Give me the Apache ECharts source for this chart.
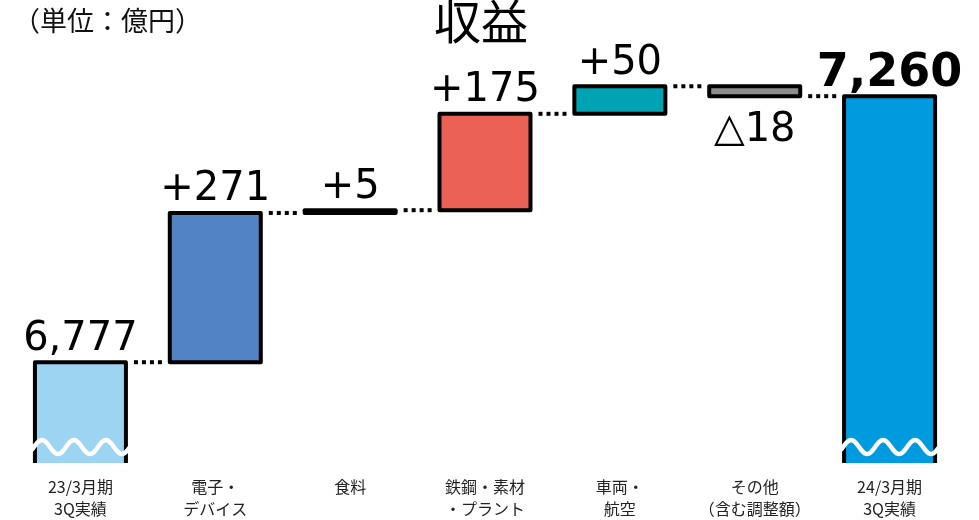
<!DOCTYPE html>
<html>
<head>
<meta charset="utf-8">
<script src="https://cdn.jsdelivr.net/npm/echarts@6/dist/echarts.min.js"></script>
<style>
html,body{margin:0;padding:0;background:#fff;}
#chart{width:979px;height:520px;}
</style>
</head>
<body>
<div id="chart"></div>
<script>
// ---- data ----
var categories = ['23/3月期\n3Q実績', '電子・\nデバイス', '食料', '鉄鋼・素材\n・プラント', '車両・\n航空', 'その他\n（含む調整額）', '24/3月期\n3Q実績'];
var startValue = 6777;
var changes = [271, 5, 175, 50, -18];
var endValue = 7260;
var valueLabels = ['6,777', '+271', '+5', '+175', '+50', '△18', '7,260'];
var waveLevel = 6623;
var axisMin = 6594;
var axisMax = 7362;
var titleText = '収益';
var unitText = '（単位：億円）';

// ---- styles ----
var barColors = ['#9DD4F1', '#5283C5', '#111111', '#EC6155', '#00A3B3', '#8C8C8C', '#009ADF'];
var BAR_W = 91;

// build waterfall: [index, low, high, isNegative]
var bars = [[0, 0, startValue, 0]];
var levels = [startValue];
var cum = startValue;
changes.forEach(function (c, k) {
  var next = cum + c;
  bars.push([k + 1, Math.min(cum, next), Math.max(cum, next), c < 0 ? 1 : 0]);
  cum = next;
  levels.push(cum);
});
bars.push([categories.length - 1, 0, endValue, 0]);
var connectors = levels.map(function (v, i) { return [i, v]; });

var chart = echarts.init(document.getElementById('chart'), null, { renderer: 'canvas' });
chart.setOption({
  animation: false,
  backgroundColor: '#fff',
  title: [
    { text: titleText, left: 434, top: -2, padding: 0,
      textStyle: { fontFamily: 'Noto Sans CJK JP', fontSize: 47, fontWeight: 'normal', color: '#000' } },
    { text: unitText, left: 13, top: 7, padding: 0,
      textStyle: { fontFamily: 'Noto Sans CJK JP', fontSize: 27, fontWeight: 'normal', color: '#111' } }
  ],
  grid: { left: 13, right: 22, top: 40, bottom: 57 },
  xAxis: {
    type: 'category',
    data: categories,
    axisLine: { show: false },
    axisTick: { show: false },
    axisLabel: {
      interval: 0, margin: 13,
      fontFamily: 'Noto Sans CJK JP', fontSize: 16, lineHeight: 22, color: '#222'
    }
  },
  yAxis: {
    type: 'value', min: axisMin, max: axisMax, show: false,
    splitLine: { show: false }
  },
  series: [
    { type: 'custom', data: connectors, z: 1, silent: true,
      renderItem: function (params, api) {
        var i = api.value(0), v = api.value(1);
        var p1 = api.coord([i, v]);
        var p2 = api.coord([i + 1, v]);
        return {
          type: 'line',
          shape: { x1: p1[0] + BAR_W / 2 + 8, y1: p1[1], x2: p2[0] - BAR_W / 2 - 5, y2: p2[1] },
          style: { stroke: '#000', lineWidth: 4, lineDash: [4, 4] }
        };
      } },
    // bars (clipped at the bottom of the plot)
    { type: 'custom', data: bars, z: 2, clip: true,
      renderItem: function (params, api) {
        var i = api.value(0);
        var lo = api.coord([i, api.value(1)]);
        var hi = api.coord([i, api.value(2)]);
        return { type: 'rect', shape: { x: lo[0] - BAR_W / 2, y: hi[1], width: BAR_W, height: lo[1] - hi[1] },
          style: { fill: barColors[i], stroke: '#000', lineWidth: 4, lineJoin: 'round' } };
      } },
    // value labels (not clipped)
    { type: 'custom', data: bars, z: 3, clip: false, silent: true,
      renderItem: function (params, api) {
        var i = api.value(0);
        var lo = api.coord([i, api.value(1)]);
        var hi = api.coord([i, api.value(2)]);
        var neg = api.value(3) === 1;
        var last = i === categories.length - 1;
        if (last) {
          return { type: 'text', style: { text: valueLabels[i], x: hi[0], y: hi[1] + 1, align: 'center', verticalAlign: 'bottom',
            font: 'bold 46px "DejaVu Sans"', fill: '#000' } };
        }
        if (neg) {
          return { type: 'text', style: { text: valueLabels[i], x: lo[0], y: lo[1] + 14, align: 'center', verticalAlign: 'top',
            font: '40px "DejaVu Sans"', fill: '#000' } };
        }
        return { type: 'text', style: { text: valueLabels[i], x: hi[0], y: hi[1] - 3, align: 'center', verticalAlign: 'bottom',
          font: '40px "DejaVu Sans"', fill: '#000' } };
      } },
    { type: 'custom', data: [[0, waveLevel], [categories.length - 1, waveLevel]], z: 5, silent: true,
      renderItem: function (params, api) {
        var c = api.coord([api.value(0), api.value(1)]);
        var x0 = c[0] - BAR_W / 2 - 3, x1 = c[0] + BAR_W / 2 + 3;
        var pts = [];
        for (var x = x0; x <= x1 + 0.01; x += 1) {
          pts.push([x, c[1] - 7 * Math.cos(2 * Math.PI * (x - x0 - 10) / 32)]);
        }
        return { type: 'polyline', shape: { points: pts },
          style: { stroke: '#fff', lineWidth: 4.5, fill: null, lineCap: 'round', lineJoin: 'round' } };
      } }
  ]
});
</script>
</body>
</html>
